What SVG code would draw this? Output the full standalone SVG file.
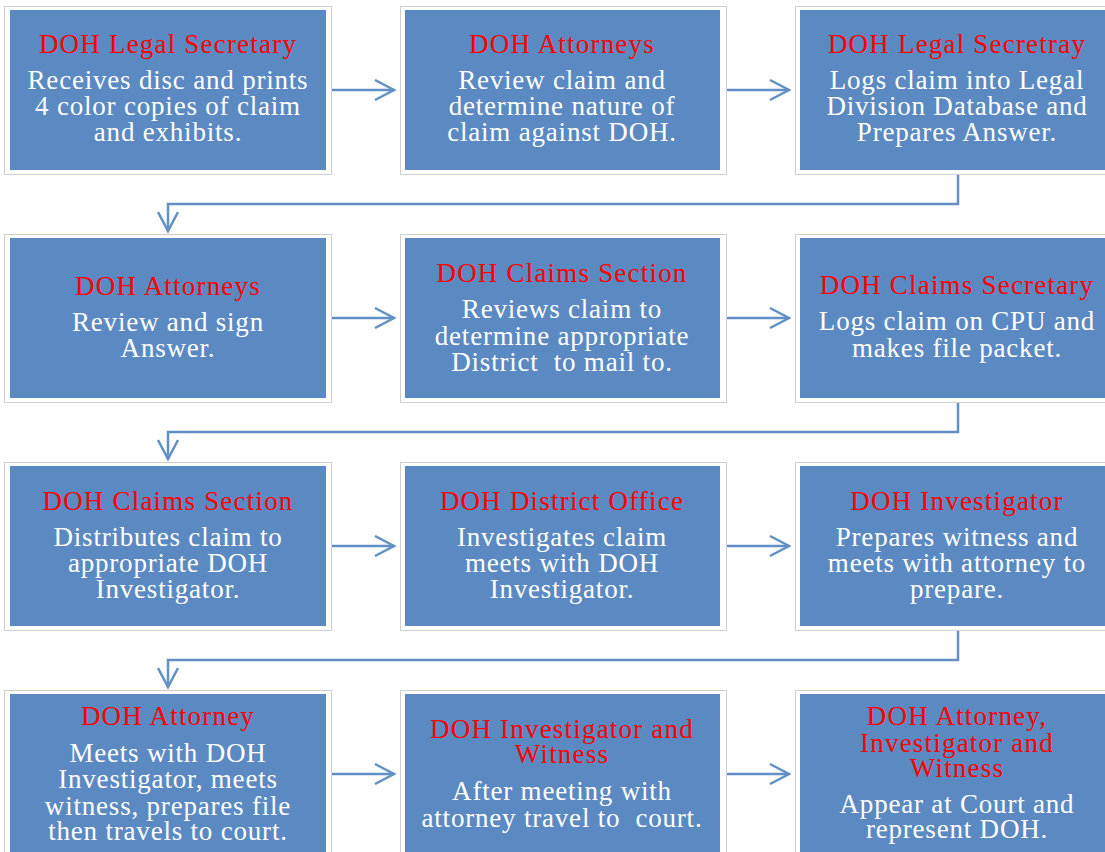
<svg xmlns="http://www.w3.org/2000/svg" width="1105" height="852" viewBox="0 0 1105 852">
<style>
.frame{fill:#ffffff;stroke:#cfcfcf;stroke-width:1}
.box{fill:#5B8AC3}
.t{font-family:"Liberation Serif","Times New Roman",serif;font-size:27px;letter-spacing:1.2px;fill:#ff0000;text-anchor:middle}
.b{font-family:"Liberation Serif","Times New Roman",serif;font-size:27px;letter-spacing:0.8px;fill:#ffffff;text-anchor:middle}
.c{fill:none;stroke:#6290C6;stroke-width:2.5}
</style>
<defs>
<marker id="arr" markerUnits="userSpaceOnUse" markerWidth="24" markerHeight="24" refX="20" refY="11" orient="auto" viewBox="0 0 24 22">
<path d="M1,1 L20,11 L1,21" fill="none" stroke="#6290C6" stroke-width="2.5"/>
</marker>
</defs>
<rect width="1105" height="852" fill="#ffffff"/>
<g id="connectors">
<path class="c" d="M332,90 H394" marker-end="url(#arr)"/>
<path class="c" d="M727,90 H789" marker-end="url(#arr)"/>
<path class="c" d="M958,174 V204 H168 V231" marker-end="url(#arr)"/>
<path class="c" d="M332,318 H394" marker-end="url(#arr)"/>
<path class="c" d="M727,318 H789" marker-end="url(#arr)"/>
<path class="c" d="M958,403 V432 H168 V459" marker-end="url(#arr)"/>
<path class="c" d="M332,546 H394" marker-end="url(#arr)"/>
<path class="c" d="M727,546 H789" marker-end="url(#arr)"/>
<path class="c" d="M958,631 V660 H168 V687" marker-end="url(#arr)"/>
<path class="c" d="M332,774 H394" marker-end="url(#arr)"/>
<path class="c" d="M727,774 H789" marker-end="url(#arr)"/>
</g>
<g id="n1">
<rect class="frame" x="4.5" y="6.5" width="327" height="168"/><rect class="box" x="10" y="10" width="316" height="160"/>
<text class="t" x="168" y="53">DOH Legal Secretary</text>
<text class="b" x="168" y="89">Receives disc and prints</text>
<text class="b" x="168" y="115">4 color copies of claim</text>
<text class="b" x="168" y="141">and exhibits.</text>
</g>
<g id="n2">
<rect class="frame" x="400.5" y="6.5" width="326" height="168"/><rect class="box" x="405" y="10" width="315" height="160"/>
<text class="t" x="562" y="53">DOH Attorneys</text>
<text class="b" x="562" y="89">Review claim and</text>
<text class="b" x="562" y="115">determine nature of</text>
<text class="b" x="562" y="141">claim against DOH.</text>
</g>
<g id="n3">
<rect class="frame" x="795.5" y="6.5" width="327" height="168"/><rect class="box" x="800" y="10" width="316" height="160"/>
<text class="t" x="957" y="53">DOH Legal Secretray</text>
<text class="b" x="957" y="89">Logs claim into Legal</text>
<text class="b" x="957" y="115">Division Database and</text>
<text class="b" x="957" y="141">Prepares Answer.</text>
</g>
<g id="n4">
<rect class="frame" x="4.5" y="234.5" width="327" height="168"/><rect class="box" x="10" y="238" width="316" height="160"/>
<text class="t" x="168" y="295">DOH Attorneys</text>
<text class="b" x="168" y="331">Review and sign</text>
<text class="b" x="168" y="357">Answer.</text>
</g>
<g id="n5">
<rect class="frame" x="400.5" y="234.5" width="326" height="168"/><rect class="box" x="405" y="238" width="315" height="160"/>
<text class="t" x="562" y="282">DOH Claims Section</text>
<text class="b" x="562" y="318">Reviews claim to</text>
<text class="b" x="562" y="345">determine appropriate</text>
<text class="b" x="562" y="371" xml:space="preserve">District  to mail to.</text>
</g>
<g id="n6">
<rect class="frame" x="795.5" y="234.5" width="327" height="168"/><rect class="box" x="800" y="238" width="316" height="160"/>
<text class="t" x="957" y="294">DOH Claims Secretary</text>
<text class="b" x="957" y="330">Logs claim on CPU and</text>
<text class="b" x="957" y="357">makes file packet.</text>
</g>
<g id="n7">
<rect class="frame" x="4.5" y="462.5" width="327" height="168"/><rect class="box" x="10" y="466" width="316" height="160"/>
<text class="t" x="168" y="510">DOH Claims Section</text>
<text class="b" x="168" y="546">Distributes claim to</text>
<text class="b" x="168" y="572">appropriate DOH</text>
<text class="b" x="168" y="598">Investigator.</text>
</g>
<g id="n8">
<rect class="frame" x="400.5" y="462.5" width="326" height="168"/><rect class="box" x="405" y="466" width="315" height="160"/>
<text class="t" x="562" y="510">DOH District Office</text>
<text class="b" x="562" y="546">Investigates claim</text>
<text class="b" x="562" y="572">meets with DOH</text>
<text class="b" x="562" y="598">Investigator.</text>
</g>
<g id="n9">
<rect class="frame" x="795.5" y="462.5" width="327" height="168"/><rect class="box" x="800" y="466" width="316" height="160"/>
<text class="t" x="957" y="510">DOH Investigator</text>
<text class="b" x="957" y="546">Prepares witness and</text>
<text class="b" x="957" y="572">meets with attorney to</text>
<text class="b" x="957" y="598">prepare.</text>
</g>
<g id="n10">
<rect class="frame" x="4.5" y="690.5" width="327" height="168"/><rect class="box" x="10" y="694" width="316" height="160"/>
<text class="t" x="168" y="725">DOH Attorney</text>
<text class="b" x="168" y="762">Meets with DOH</text>
<text class="b" x="168" y="788">Investigator, meets</text>
<text class="b" x="168" y="815">witness, prepares file</text>
<text class="b" x="168" y="840">then travels to court.</text>
</g>
<g id="n11">
<rect class="frame" x="400.5" y="690.5" width="326" height="168"/><rect class="box" x="405" y="694" width="315" height="160"/>
<text class="t" x="562" y="738">DOH Investigator and</text>
<text class="t" x="562" y="763">Witness</text>
<text class="b" x="562" y="800">After meeting with</text>
<text class="b" x="562" y="827" xml:space="preserve">attorney travel to  court.</text>
</g>
<g id="n12">
<rect class="frame" x="795.5" y="690.5" width="327" height="168"/><rect class="box" x="800" y="694" width="316" height="160"/>
<text class="t" x="957" y="725">DOH Attorney,</text>
<text class="t" x="957" y="752">Investigator and</text>
<text class="t" x="957" y="777">Witness</text>
<text class="b" x="957" y="813">Appear at Court and</text>
<text class="b" x="957" y="838">represent DOH.</text>
</g>
</svg>
